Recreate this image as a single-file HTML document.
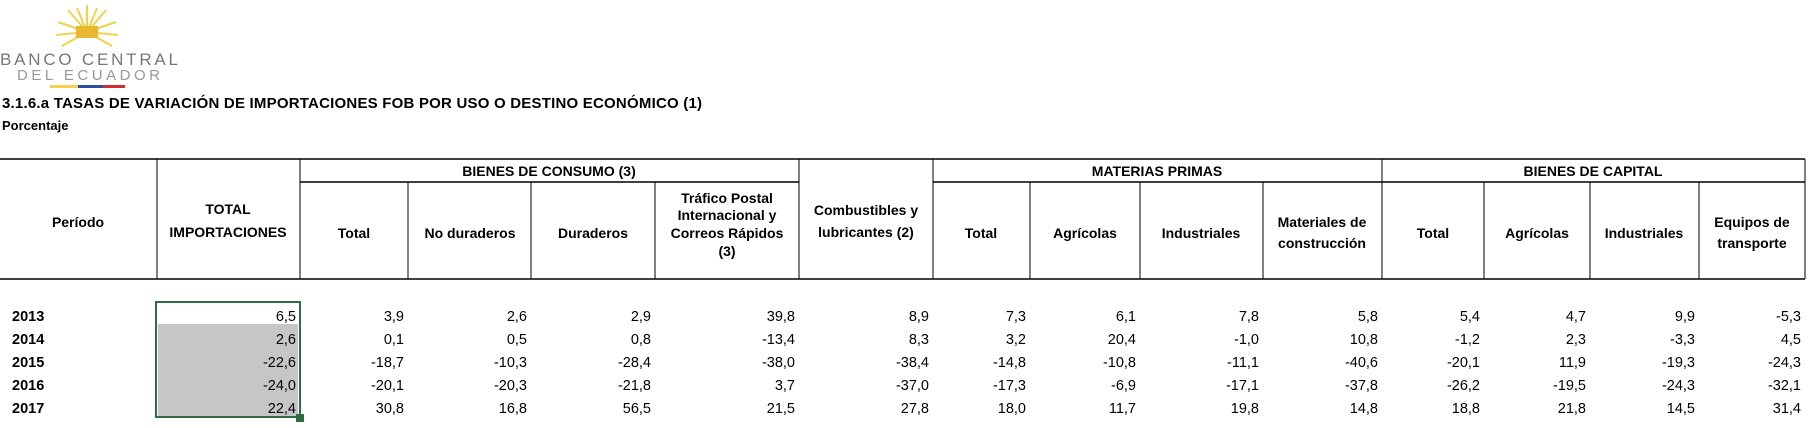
<!DOCTYPE html>
<html><head><meta charset="utf-8"><style>
html,body{margin:0;padding:0;background:#fff;width:1814px;height:428px;overflow:hidden}
svg{display:block}
text{font-family:"Liberation Sans",sans-serif;fill:#000}
.h{font-weight:bold;font-size:14px;text-anchor:middle}
.n{font-size:14.5px;text-anchor:end}
.y{font-weight:bold;font-size:14.5px}
</style></head><body>
<svg width="1814" height="428" xmlns="http://www.w3.org/2000/svg">
<!-- logo -->
<g stroke="#f2d24a" stroke-width="2">
<line x1="87" y1="32" x2="87" y2="5"/><line x1="87" y1="32" x2="68" y2="10"/><line x1="87" y1="32" x2="106" y2="10"/>
<line x1="87" y1="32" x2="58" y2="22"/><line x1="87" y1="32" x2="116" y2="22"/><line x1="87" y1="32" x2="56" y2="35"/>
<line x1="87" y1="32" x2="118" y2="35"/><line x1="87" y1="32" x2="62" y2="46"/><line x1="87" y1="32" x2="112" y2="46"/>
<line x1="87" y1="32" x2="77" y2="8"/><line x1="87" y1="32" x2="97" y2="8"/>
</g>
<rect x="76" y="26" width="22" height="12" fill="#e8b830"/>
<text x="0" y="65" font-size="17" fill="#8a8a8a" textLength="178" style="fill:#777">BANCO CENTRAL</text>
<text x="17" y="80" font-size="15" textLength="143" style="fill:#999">DEL ECUADOR</text>
<rect x="50" y="85" width="28" height="3" fill="#f2d24a"/><rect x="78" y="85" width="25" height="3" fill="#2a4fa0"/><rect x="103" y="85" width="22" height="3" fill="#d03030"/>
<text x="2" y="108" font-size="15" font-weight="bold" textLength="700">3.1.6.a TASAS DE VARIACIÓN DE IMPORTACIONES FOB POR USO O DESTINO ECONÓMICO (1)</text>
<text x="2" y="130" font-size="13" font-weight="bold">Porcentaje</text>
<!-- grid -->
<g stroke="#000" stroke-width="1.5">
<line x1="0" y1="159" x2="1805" y2="159"/>
<line x1="0" y1="279" x2="1805" y2="279"/>
<line x1="300" y1="182" x2="799" y2="182"/>
<line x1="933" y1="182" x2="1805" y2="182"/>
</g>
<g stroke="#000" stroke-width="1">
<line x1="157" y1="159" x2="157" y2="279"/><line x1="300" y1="159" x2="300" y2="279"/>
<line x1="408" y1="182" x2="408" y2="279"/><line x1="531" y1="182" x2="531" y2="279"/><line x1="655" y1="182" x2="655" y2="279"/>
<line x1="799" y1="159" x2="799" y2="279"/><line x1="933" y1="159" x2="933" y2="279"/>
<line x1="1030" y1="182" x2="1030" y2="279"/><line x1="1140" y1="182" x2="1140" y2="279"/><line x1="1263" y1="182" x2="1263" y2="279"/>
<line x1="1382" y1="159" x2="1382" y2="279"/>
<line x1="1484" y1="182" x2="1484" y2="279"/><line x1="1590" y1="182" x2="1590" y2="279"/><line x1="1699" y1="182" x2="1699" y2="279"/>
<line x1="1805" y1="159" x2="1805" y2="279"/>
</g>
<!-- headers -->
<text class="h" x="549" y="176">BIENES DE CONSUMO (3)</text>
<text class="h" x="1157" y="176">MATERIAS  PRIMAS</text>
<text class="h" x="1593" y="176">BIENES DE CAPITAL</text>
<text class="h" x="78" y="227">Período</text>
<text class="h" x="228" y="214">TOTAL</text><text class="h" x="228" y="237">IMPORTACIONES</text>
<text class="h" x="354" y="238">Total</text>
<text class="h" x="470" y="238">No duraderos</text>
<text class="h" x="593" y="238">Duraderos</text>
<text class="h" x="727" y="203">Tráfico Postal</text><text class="h" x="727" y="220">Internacional y</text><text class="h" x="727" y="238">Correos Rápidos</text><text class="h" x="727" y="256">(3)</text>
<text class="h" x="866" y="215">Combustibles y</text><text class="h" x="866" y="237">lubricantes (2)</text>
<text class="h" x="981" y="238">Total</text>
<text class="h" x="1085" y="238">Agrícolas</text>
<text class="h" x="1201" y="238">Industriales</text>
<text class="h" x="1322" y="227">Materiales de</text><text class="h" x="1322" y="248">construcción</text>
<text class="h" x="1433" y="238">Total</text>
<text class="h" x="1537" y="238">Agrícolas</text>
<text class="h" x="1644" y="238">Industriales</text>
<text class="h" x="1752" y="227">Equipos de</text><text class="h" x="1752" y="248">transporte</text>
<!-- selection -->
<rect x="158" y="324" width="140" height="92" fill="#c6c6c6"/>
<rect x="156" y="302" width="144" height="115" fill="none" stroke="#2f6b45" stroke-width="2"/>
<rect x="296" y="414" width="8" height="8" fill="#2f6b45"/>
<!-- rows -->
<g class="y">
<text class="y" x="12" y="321">2013</text><text class="y" x="12" y="344">2014</text><text class="y" x="12" y="367">2015</text><text class="y" x="12" y="390">2016</text><text class="y" x="12" y="413">2017</text>
</g>
<g>
<text class="n" x="296" y="321">6,5</text><text class="n" x="404" y="321">3,9</text><text class="n" x="527" y="321">2,6</text><text class="n" x="651" y="321">2,9</text><text class="n" x="795" y="321">39,8</text><text class="n" x="929" y="321">8,9</text><text class="n" x="1026" y="321">7,3</text><text class="n" x="1136" y="321">6,1</text><text class="n" x="1259" y="321">7,8</text><text class="n" x="1378" y="321">5,8</text><text class="n" x="1480" y="321">5,4</text><text class="n" x="1586" y="321">4,7</text><text class="n" x="1695" y="321">9,9</text><text class="n" x="1801" y="321">-5,3</text>
<text class="n" x="296" y="344">2,6</text><text class="n" x="404" y="344">0,1</text><text class="n" x="527" y="344">0,5</text><text class="n" x="651" y="344">0,8</text><text class="n" x="795" y="344">-13,4</text><text class="n" x="929" y="344">8,3</text><text class="n" x="1026" y="344">3,2</text><text class="n" x="1136" y="344">20,4</text><text class="n" x="1259" y="344">-1,0</text><text class="n" x="1378" y="344">10,8</text><text class="n" x="1480" y="344">-1,2</text><text class="n" x="1586" y="344">2,3</text><text class="n" x="1695" y="344">-3,3</text><text class="n" x="1801" y="344">4,5</text>
<text class="n" x="296" y="367">-22,6</text><text class="n" x="404" y="367">-18,7</text><text class="n" x="527" y="367">-10,3</text><text class="n" x="651" y="367">-28,4</text><text class="n" x="795" y="367">-38,0</text><text class="n" x="929" y="367">-38,4</text><text class="n" x="1026" y="367">-14,8</text><text class="n" x="1136" y="367">-10,8</text><text class="n" x="1259" y="367">-11,1</text><text class="n" x="1378" y="367">-40,6</text><text class="n" x="1480" y="367">-20,1</text><text class="n" x="1586" y="367">11,9</text><text class="n" x="1695" y="367">-19,3</text><text class="n" x="1801" y="367">-24,3</text>
<text class="n" x="296" y="390">-24,0</text><text class="n" x="404" y="390">-20,1</text><text class="n" x="527" y="390">-20,3</text><text class="n" x="651" y="390">-21,8</text><text class="n" x="795" y="390">3,7</text><text class="n" x="929" y="390">-37,0</text><text class="n" x="1026" y="390">-17,3</text><text class="n" x="1136" y="390">-6,9</text><text class="n" x="1259" y="390">-17,1</text><text class="n" x="1378" y="390">-37,8</text><text class="n" x="1480" y="390">-26,2</text><text class="n" x="1586" y="390">-19,5</text><text class="n" x="1695" y="390">-24,3</text><text class="n" x="1801" y="390">-32,1</text>
<text class="n" x="296" y="413">22,4</text><text class="n" x="404" y="413">30,8</text><text class="n" x="527" y="413">16,8</text><text class="n" x="651" y="413">56,5</text><text class="n" x="795" y="413">21,5</text><text class="n" x="929" y="413">27,8</text><text class="n" x="1026" y="413">18,0</text><text class="n" x="1136" y="413">11,7</text><text class="n" x="1259" y="413">19,8</text><text class="n" x="1378" y="413">14,8</text><text class="n" x="1480" y="413">18,8</text><text class="n" x="1586" y="413">21,8</text><text class="n" x="1695" y="413">14,5</text><text class="n" x="1801" y="413">31,4</text>
</g>
</svg>
</body></html>
